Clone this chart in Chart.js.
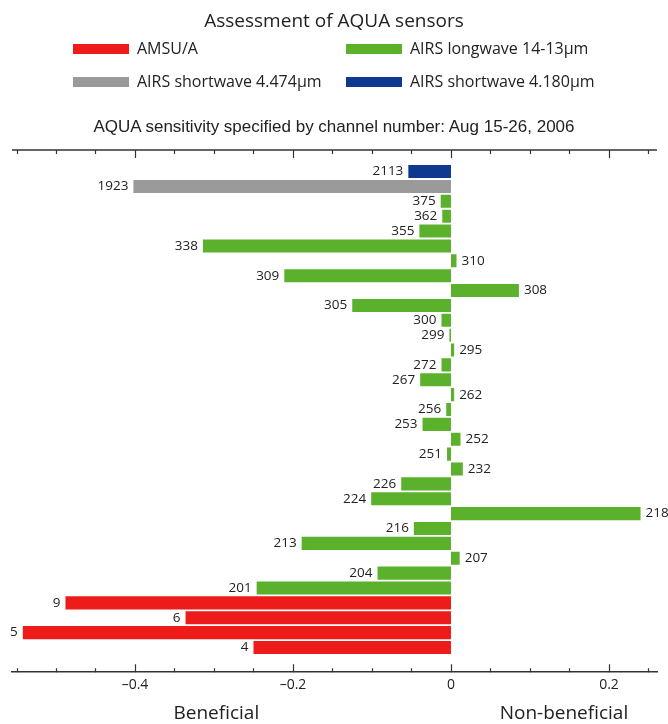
<!DOCTYPE html>
<html>
<head>
<meta charset="utf-8">
<script src="https://cdn.jsdelivr.net/npm/chart.js@4"></script>
<style>
  html, body { margin: 0; padding: 0; background: #fff; }
  #wrap { position: relative; width: 668px; height: 724px; font-family: "Open Sans", sans-serif; color: #222; }
  #chart { position: absolute; left: 0; top: 0; }
  .title { position: absolute; left: 0; width: 668px; text-align: center; font-size: 19px; top: 7px; }
  .sub { position: absolute; left: 0; width: 668px; text-align: center; font-family: "Liberation Sans", Arial, sans-serif; font-size: 17px; top: 117px; }
  .item { position: absolute; font-size: 16px; line-height: 20px; }
  .swatch { position: absolute; width: 56px; height: 10px; }
</style>
</head>
<body>
<div id="wrap">
  <canvas id="chart" width="668" height="724"></canvas>
  <div class="title">Assessment of AQUA sensors</div>
  <div id="legend"></div>
  <div class="sub">AQUA sensitivity specified by channel number: Aug 15-26, 2006</div>
</div>
<script>
// canaux et valeurs, de haut en bas
const sw4180Channels = ['2113'];
const sw4180Values = [-0.054];

const sw4474Channels = ['1923'];
const sw4474Values = [-0.402];

const longwaveChannels = ['375', '362', '355', '338', '310', '309', '308', '305', '300', '299', '295',
    '272', '267', '262', '256', '253', '252', '251', '232', '226', '224', '218', '216', '213', '207', '204', '201'];
const longwaveValues = [-0.013, -0.011, -0.040, -0.314, 0.007, -0.211, 0.086, -0.125, -0.012, -0.002, 0.004,
    -0.012, -0.039, 0.004, -0.006, -0.036, 0.012, -0.005, 0.015, -0.063, -0.101, 0.240, -0.047, -0.189, 0.011, -0.093, -0.246];

const amsuChannels = ['9', '6', '5', '4'];
const amsuValues = [-0.488, -0.336, -0.542, -0.250];

const tickLabels = ['\u20130.4', '\u20130.2', '0', '0.2'];

const colors = {
    amsu: '#ee1b1b',
    longwave: '#5bb12c',
    sw4474: '#9a9a9a',
    sw4180: '#0f388f'
};

// ordre vertical des barres
const order = [...sw4180Channels, ...sw4474Channels, ...longwaveChannels, ...amsuChannels];

function makeDataset(label, channels, values, color) {
    return {
        label: label,
        channels: channels,
        data: channels.map((c, i) => ({ x: values[i], y: order.indexOf(c) })),
        backgroundColor: color,
        borderWidth: 0,
        grouped: false,
        barPercentage: 0.88,
        categoryPercentage: 1
    };
}

const datasets = [
    makeDataset('AMSU/A', amsuChannels, amsuValues, colors.amsu),
    makeDataset('AIRS longwave 14-13\u00b5m', longwaveChannels, longwaveValues, colors.longwave),
    makeDataset('AIRS shortwave 4.474\u00b5m', sw4474Channels, sw4474Values, colors.sw4474),
    makeDataset('AIRS shortwave 4.180\u00b5m', sw4180Channels, sw4180Values, colors.sw4180)
];

// légende en deux colonnes
const legendPos = [[73, 49], [346, 49], [73, 82], [346, 82]];
const legendDiv = document.getElementById('legend');
datasets.forEach((ds, i) => {
    const [lx, ly] = legendPos[i];
    const sw = document.createElement('div');
    sw.className = 'swatch';
    sw.style.left = lx + 'px';
    sw.style.top = (ly - 5) + 'px';
    sw.style.background = ds.backgroundColor;
    legendDiv.appendChild(sw);
    const t = document.createElement('div');
    t.className = 'item';
    t.style.left = (lx + 64) + 'px';
    t.style.top = (ly - 11) + 'px';
    t.textContent = ds.label;
    legendDiv.appendChild(t);
});

function isMajor(v) {
    return Math.abs(v / 0.2 - Math.round(v / 0.2)) < 1e-6;
}

const axisColor = '#333';

// ticks vers l'intérieur, axe du haut, étiquettes des canaux
const decorPlugin = {
    id: 'decor',
    afterDraw(chart) {
        const ctx = chart.ctx;
        const xs = chart.scales.x;
        const area = chart.chartArea;
        ctx.save();
        ctx.strokeStyle = axisColor;
        ctx.lineWidth = 1.5;
        ctx.beginPath();
        ctx.moveTo(area.left, area.top);
        ctx.lineTo(area.right, area.top);
        ctx.stroke();
        ctx.lineWidth = 1.2;
        xs.ticks.forEach(t => {
            const px = Math.round(xs.getPixelForValue(t.value)) + 0.5;
            const len = isMajor(t.value) ? 8 : 4;
            ctx.beginPath();
            ctx.moveTo(px, area.bottom);
            ctx.lineTo(px, area.bottom - len);
            ctx.moveTo(px, area.top);
            ctx.lineTo(px, area.top + len);
            ctx.stroke();
        });

        ctx.fillStyle = '#222';
        ctx.font = '19px "Open Sans"';
        ctx.textAlign = 'center';
        ctx.textBaseline = 'middle';
        ctx.fillText('Beneficial', xs.getPixelForValue(-0.297), 714);
        ctx.fillText('Non-beneficial', xs.getPixelForValue(0.143), 714);
        ctx.restore();
    },
    afterDatasetsDraw(chart) {
        const ctx = chart.ctx;
        ctx.save();
        ctx.font = '13.5px "Open Sans"';
        ctx.fillStyle = '#222';
        ctx.textBaseline = 'middle';
        chart.data.datasets.forEach((ds, di) => {
            const meta = chart.getDatasetMeta(di);
            meta.data.forEach((bar, i) => {
                const v = ds.data[i].x;
                if (v < 0) {
                    ctx.textAlign = 'right';
                    ctx.fillText(ds.channels[i], bar.x - 5, bar.y);
                } else {
                    ctx.textAlign = 'left';
                    ctx.fillText(ds.channels[i], bar.x + 5, bar.y);
                }
            });
        });
        ctx.restore();
    }
};

new Chart(document.getElementById('chart'), {
    type: 'bar',
    data: { datasets: datasets },
    options: {
        indexAxis: 'y',
        responsive: false,
        animation: false,
        layout: { padding: { top: 150, left: 12, right: 11, bottom: 27 } },
        plugins: {
            legend: { display: false },
            title: { display: false },
            tooltip: { enabled: false }
        },
        scales: {
            x: {
                type: 'linear',
                min: -0.5557,
                max: 0.2608,
                grid: { display: false, drawTicks: false, tickLength: 0 },
                border: { display: true, color: axisColor, width: 1.5 },
                ticks: {
                    stepSize: 0.05,
                    includeBounds: false,
                    autoSkip: false,
                    maxRotation: 0,
                    padding: 4,
                    color: '#222',
                    font: { family: 'Open Sans', size: 14 },
                    callback: function (v) {
                        if (!isMajor(v)) return '';
                        const k = Math.round(v / 0.2);
                        return tickLabels[k + 2];
                    }
                }
            },
            y: {
                type: 'linear',
                display: false,
                reverse: true,
                offset: false,
                min: -1.45,
                max: 33.66
            }
        }
    },
    plugins: [decorPlugin]
});
</script>
</body>
</html>
